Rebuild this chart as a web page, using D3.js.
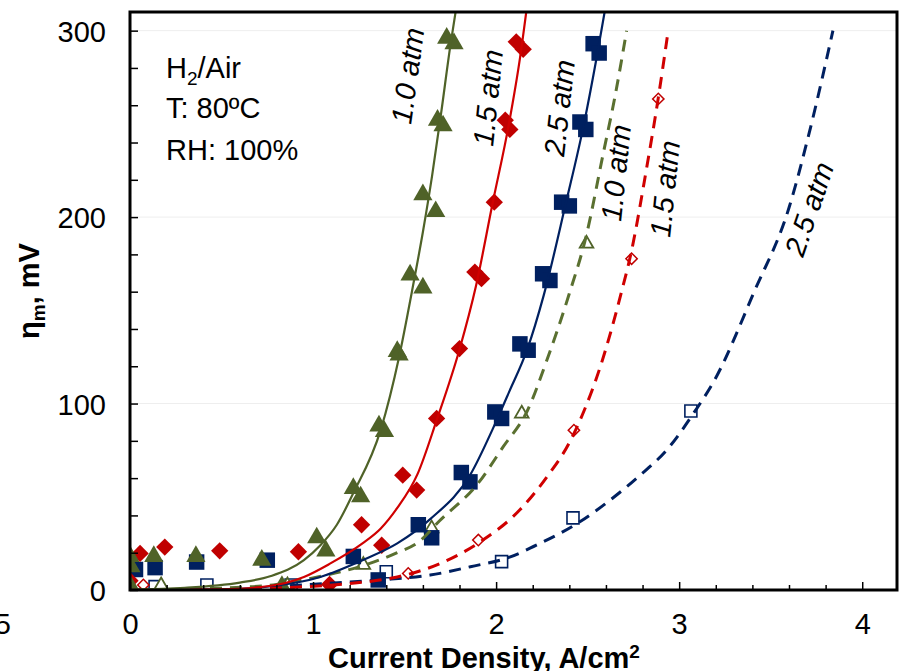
<!DOCTYPE html>
<html>
<head>
<meta charset="utf-8">
<script src="https://cdn.jsdelivr.net/npm/d3@7"></script>
<style>
  html, body { margin: 0; padding: 0; background: #fff; }
  svg { display: block; font-family: "Liberation Sans", Arial, sans-serif; }
</style>
</head>
<body>
<svg id="chart" width="899" height="671"></svg>
<script>
// ---- measured data: current density (A/cm^2) vs mass-transport overpotential (mV) ----

// Filled markers: solid-line series
const filled10 = [[0.0,18],[0.005,12.5],[0.0,2.5],[0.13,18],[0.36,18],[0.72,16],[0.83,2],[1.02,28],[1.07,21],
  [1.22,54.5],[1.26,50],[1.36,88],[1.39,85],[1.46,128],[1.47,126],[1.53,169],[1.60,162],[1.60,212],[1.67,203],
  [1.68,252],[1.71,249],[1.73,296],[1.77,293]];
const filled15 = [[0.0,5],[0.055,19.6],[0.19,23],[0.49,21],[0.92,20.5],[1.09,3],[1.265,35],[1.375,24],[1.49,61.6],
  [1.566,53.6],[1.675,92],[1.80,129.5],[1.884,170.5],[1.92,167],[1.99,208],[2.05,252],[2.075,247],[2.11,294],[2.148,290]];
const filled25 = [[0.03,11],[0.137,12],[0.364,15],[0.75,16],[1.22,18],[1.356,5.4],[1.575,35],[1.648,28],[1.81,63],
  [1.857,58],[1.993,95.5],[2.03,92],[2.13,132],[2.175,128.6],[2.254,169.6],[2.294,166],[2.358,208],[2.40,206],
  [2.458,251],[2.49,247],[2.53,293],[2.563,288]];

// Open markers: dashed-line series
const open10 = [[0.17,2.5],[0.86,2.5],[1.275,13.4],[1.648,33],[2.14,94.6],[2.494,185.7]];
const open15 = [[0.073,2.7],[1.52,8.9],[1.903,26.8],[2.425,85.7],[2.74,177.7],[2.886,263.4]];
const open25 = [[0.137,1.8],[0.42,2.7],[0.88,2.7],[1.40,9.8],[2.03,15.2],[2.42,38.7],[3.064,96]];

// Fitted curves
const fit10 = [[0,0.3],[0.3,1.2],[0.6,4],[0.77,7.5],[0.95,16],[1.04,24],[1.13,35],[1.22,52],[1.37,86],[1.47,125],
  [1.54,160],[1.60,192],[1.65,222],[1.70,256],[1.75,292],[1.785,314]];
const fit15 = [[0,0],[0.5,0.4],[0.75,2],[0.95,7],[1.09,14],[1.27,25],[1.37,33],[1.46,44],[1.57,62],[1.675,91],
  [1.80,129],[1.89,163],[1.98,207],[2.07,250],[2.13,285],[2.17,314]];
const fit25 = [[0,0],[0.5,0.4],[0.77,2],[1.04,7],[1.27,16],[1.46,25],[1.64,38],[1.86,62],[1.98,86],[2.07,106],
  [2.17,129],[2.26,158],[2.38,207],[2.48,250],[2.55,286],[2.60,314]];
const dash10 = [[0,0],[0.5,1],[0.8,3],[1.0,6.5],[1.27,13],[1.46,20],[1.58,26],[1.69,37],[1.90,57],[2.04,77],
  [2.17,96],[2.28,124],[2.40,159],[2.49,189],[2.585,234],[2.65,265],[2.713,300]];
const dash15 = [[0,0],[0.5,0.5],[0.9,1.5],[1.2,3.5],[1.46,7],[1.69,14],[1.90,25],[2.13,43],[2.28,61],[2.40,79],
  [2.48,96],[2.57,120],[2.68,158],[2.74,182],[2.82,225],[2.886,264],[2.94,300]];
const dash25 = [[0,0],[0.5,0.5],[1.09,3.6],[1.37,5.4],[1.64,8],[1.86,12.5],[2.07,17.5],[2.24,25],[2.44,35.5],
  [2.62,48],[2.78,61],[2.94,76],[3.08,95],[3.19,112],[3.41,160],[3.60,205],[3.71,245],[3.84,300]];

// Axes
const xTickValues = [0, 1, 2, 3, 4];
const xTickLabels = ["0", "1", "2", "3", "4"];
const yTickValues = [0, 100, 200, 300];
const yTickLabels = ["0", "100", "200", "300"];
const conditions = ["T: 80ºC", "RH: 100%"];
const curveLabels = ["1.0 atm", "1.5 atm", "2.5 atm", "1.0 atm", "1.5 atm", "2.5 atm"];

// ---- layout ----
const svg = d3.select("#chart");
const plot = { left: 130, right: 897, top: 12, bottom: 590 };
const x = d3.scaleLinear().domain([0, 4.19]).range([plot.left, plot.right]);
const y = d3.scaleLinear().domain([0, 310]).range([plot.bottom, plot.top]);

const GREEN = "#4F6228", RED = "#C00000", NAVY = "#002060";
const FONT = 29;

svg.append("defs").append("clipPath").attr("id", "plotClip")
  .append("rect")
  .attr("x", plot.left).attr("y", plot.top)
  .attr("width", plot.right - plot.left).attr("height", plot.bottom - plot.top);

// light horizontal gridlines
svg.append("g").selectAll("line").data(yTickValues.filter(d => d > 0)).join("line")
  .attr("x1", plot.left).attr("x2", plot.right)
  .attr("y1", d => y(d)).attr("y2", d => y(d))
  .attr("stroke", "#eeeeee").attr("stroke-width", 1);

// ---- markers ----
const marks = svg.append("g").attr("clip-path", "url(#plotClip)");
function drawMarkers(data, type, size, rotate, fill, stroke, sw) {
  const path = d3.symbol().type(type).size(size)();
  marks.append("g").selectAll("path").data(data).join("path")
    .attr("d", path)
    .attr("transform", d => `translate(${x(d[0])},${y(d[1])}) rotate(${rotate})`)
    .attr("fill", fill)
    .attr("stroke", stroke)
    .attr("stroke-width", sw);
}
drawMarkers(open25, d3.symbolSquare, 144, 0, "#fff", NAVY, 1.6);
drawMarkers(open15, d3.symbolSquare, 64, 45, "#fff", RED, 1.5);
drawMarkers(open10, d3.symbolTriangle, 80, 0, "#fff", GREEN, 1.8);
drawMarkers(filled25, d3.symbolSquare, 240, 0, NAVY, "none", 0);
drawMarkers(filled15, d3.symbolSquare, 150, 45, RED, "none", 0);
drawMarkers(filled10, d3.symbolTriangle, 160, 0, GREEN, "none", 0);

// ---- curves ----
const line = d3.line().x(d => x(d[0])).y(d => y(d[1])).curve(d3.curveMonotoneX);
const curves = svg.append("g").attr("clip-path", "url(#plotClip)").attr("fill", "none");
[[dash25, NAVY], [dash15, "#D00000"], [dash10, "#5A7030"]].forEach(([d, c]) => {
  curves.append("path").datum(d).attr("d", line)
    .attr("stroke", c).attr("stroke-width", 3).attr("stroke-dasharray", "12,8");
});
[[fit25, NAVY], [fit15, "#D00000"], [fit10, GREEN]].forEach(([d, c]) => {
  curves.append("path").datum(d).attr("d", line)
    .attr("stroke", c).attr("stroke-width", 2.2);
});

// ---- axes ----
const xMinor = d3.range(0.2, 4.01, 0.2).filter(v => Math.abs(v - Math.round(v)) > 1e-6);
const yMinor = d3.range(20, 301, 20).filter(v => v % 100 !== 0);

svg.append("g").attr("transform", `translate(0,${plot.bottom})`)
  .call(d3.axisBottom(x).tickValues(xMinor).tickSize(-5).tickFormat(""))
  .call(g => g.select(".domain").remove())
  .call(g => g.selectAll("line").attr("stroke-width", 1.5));

const xAxis = svg.append("g").attr("transform", `translate(0,${plot.bottom})`)
  .call(d3.axisBottom(x).tickValues(xTickValues).tickSize(-8).tickPadding(23)
    .tickFormat((d, i) => xTickLabels[i]))
  .call(g => g.select(".domain").remove())
  .call(g => g.selectAll("line").attr("stroke-width", 1.5));
xAxis.attr("font-family", null).attr("font-size", null);
xAxis.selectAll("text").attr("font-size", FONT).attr("fill", "#000");

svg.append("g").attr("transform", `translate(${plot.left},0)`)
  .call(d3.axisLeft(y).tickValues(yMinor).tickSize(-8).tickFormat(""))
  .call(g => g.select(".domain").remove())
  .call(g => g.selectAll("line").attr("stroke-width", 1.5));

const yAxis = svg.append("g").attr("transform", `translate(${plot.left},0)`)
  .call(d3.axisLeft(y).tickValues(yTickValues).tickSize(-8).tickPadding(24)
    .tickFormat((d, i) => yTickLabels[i]))
  .call(g => g.select(".domain").remove())
  .call(g => g.selectAll("line").attr("stroke-width", 1.5));
yAxis.attr("font-family", null).attr("font-size", null);
yAxis.selectAll("text").attr("font-size", FONT).attr("fill", "#000").attr("dy", "0.36em");

// frame
svg.append("rect")
  .attr("x", plot.left).attr("y", plot.top)
  .attr("width", plot.right - plot.left).attr("height", plot.bottom - plot.top)
  .attr("fill", "none").attr("stroke", "#000").attr("stroke-width", 3);

// stray label at the left edge
svg.append("text").attr("x", 11).attr("y", 634).attr("text-anchor", "end")
  .attr("font-size", FONT).text("5");

// axis titles
const xt = svg.append("text").attr("x", 328).attr("y", 668)
  .attr("font-size", FONT).attr("font-weight", "bold");
xt.append("tspan").text("Current Density, A/cm");
xt.append("tspan").attr("font-size", 19).attr("dy", -10).text("2");

const yt = svg.append("text").attr("transform", "translate(39,291) rotate(-90)")
  .attr("text-anchor", "middle").attr("font-size", FONT).attr("font-weight", "bold");
yt.append("tspan").text("η");
yt.append("tspan").attr("font-size", 19).attr("dy", 6).text("m");
yt.append("tspan").attr("dy", -6).text(", mV");

// test conditions
const h2 = svg.append("text").attr("x", 166).attr("y", 78).attr("font-size", FONT);
h2.append("tspan").text("H");
h2.append("tspan").attr("font-size", 19).attr("dy", 7).text("2");
h2.append("tspan").attr("dy", -7).text("/Air");
svg.append("g").selectAll("text").data(conditions).join("text")
  .attr("x", 166).attr("y", (d, i) => [118, 160][i])
  .attr("font-size", FONT).text(d => d);

// curve labels (anchored in data units, rotated along the curves)
const labelAnchors = [[1.535, 249.4, -82], [1.983, 237.6, -84], [2.371, 232.2, -83.5],
                      [2.682, 197.4, -84], [2.950, 188.8, -84], [3.676, 178.1, -71]];
svg.append("g").selectAll("text").data(curveLabels).join("text")
  .attr("transform", (d, i) => `translate(${x(labelAnchors[i][0])},${y(labelAnchors[i][1])}) rotate(${labelAnchors[i][2]})`)
  .attr("font-size", FONT).attr("font-style", "italic")
  .text(d => d);
</script>
</body>
</html>
